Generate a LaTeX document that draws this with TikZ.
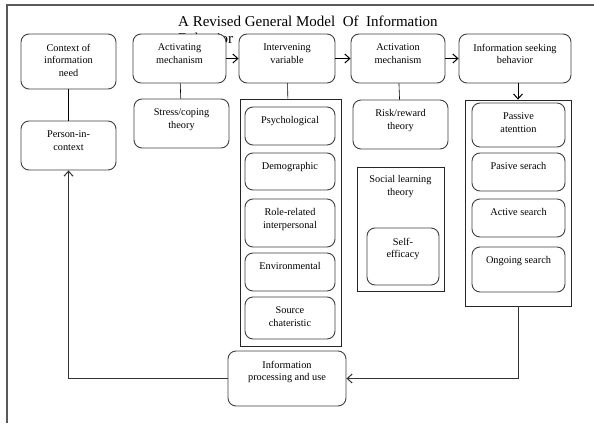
\documentclass[tikz,border=0pt]{standalone}
\usepackage{fontspec}
\setmainfont{Liberation Serif}
\usetikzlibrary{arrows.meta,fit}
\newcommand\rbx[6]{\node[rbox,fit={(#2,#3)(#4,#5)}] (#1) {};
  \node[lbl] at ([yshift=-10pt]#1.north) {#6};}
\newcommand\cbx[5]{\node[cbox,fit={(#2,#3)(#4,#5)}] (#1) {};}
\begin{document}
\begin{tikzpicture}[x=1pt,y=-1pt,
  rbox/.style={draw=black!75,line width=0.9pt,rounded corners=8pt,fill=white,inner sep=0pt},
  cbox/.style={draw=black!85,line width=0.8pt,fill=white,inner sep=0pt},
  lbl/.style={anchor=north,align=center,inner sep=0pt,font=\fontsize{10.3}{12.8}\selectfont},
  arr/.style={-{Straight Barb[length=5pt,width=9pt,line width=1pt]},line width=0.9pt},
  link/.style={line width=0.6pt},
  loopline/.style={line width=1.4pt,draw=black!80},
  frame/.style={draw=black!65,line width=1.3pt}]
\useasboundingbox (0,0) rectangle (594,423);
% frame
\draw[frame] (7,423) -- (7,5) -- (594,5);
% title (second line partly hidden by the boxes)
\node[anchor=north west,align=left,inner sep=0pt,font=\fontsize{15}{17}\selectfont] (title) at (178,15.5)
  {A Revised General Model\ \ Of\ \ Information\\Behavior};
% top row
\rbx{ctx}{21}{34}{116}{89}{Context of\\information\\need}
\rbx{act}{133}{34}{226}{83}{Activating\\mechanism}
\rbx{inter}{239}{34}{335}{83}{Intervening\\variable}
\rbx{actv}{351}{34}{445}{83}{Activation\\mechanism}
\rbx{seek}{459}{34}{571}{83}{Information seeking\\behavior}
% left column
\rbx{pic}{21}{121}{116}{170}{Person-in-\\context}
\rbx{stress}{134}{99}{229}{148}{Stress/coping\\theory}
% intervening variables
\cbx{intc}{240}{99}{341}{346}
\rbx{psy}{245}{107}{335}{145}{Psychological}
\rbx{demo}{245}{153}{335}{190}{Demographic}
\rbx{role}{245}{199}{335}{247}{Role-related\\interpersonal}
\rbx{env}{245}{253}{335}{291}{Environmental}
\rbx{src}{245}{297}{335}{339}{Source\\chateristic}
% activation mechanism
\rbx{risk}{353}{100}{448}{149}{Risk/reward\\theory}
\cbx{slc}{357}{167}{444}{291}
\node[lbl] (slct) at ([yshift=-8.5pt]slc.north) {Social learning\\theory};
\rbx{self}{367}{228}{439}{285}{Self-\\efficacy}
% information seeking behaviour
\cbx{seekc}{465}{100}{571}{306}
\rbx{pas}{472}{103}{565}{147}{Passive\\atenttion}
\rbx{pas2}{472}{153}{565}{191}{Pasive serach}
\rbx{acts}{472}{199}{565}{237}{Active search}
\rbx{ong}{472}{247}{565}{292}{Ongoing search}
% processing
\rbx{proc}{228}{351}{346}{406}{Information\\processing and use}
% connectors
\draw[arr] (act) -- (inter);
\draw[arr] (inter) -- (actv);
\draw[arr] (actv) -- (seek);
\draw[link] (ctx) -- (pic);
\draw[link] (act) -- (stress);
\draw[link] (inter) -- (intc);
\draw[link] (actv) -- (risk);
\draw[arr] (seekc.north |- seek.south) -- (seekc.north);
\draw[loopline,arr] (seekc.south) |- (proc.east);
\draw[loopline,arr] (proc.west) -| (pic.south);
\end{tikzpicture}
\end{document}
